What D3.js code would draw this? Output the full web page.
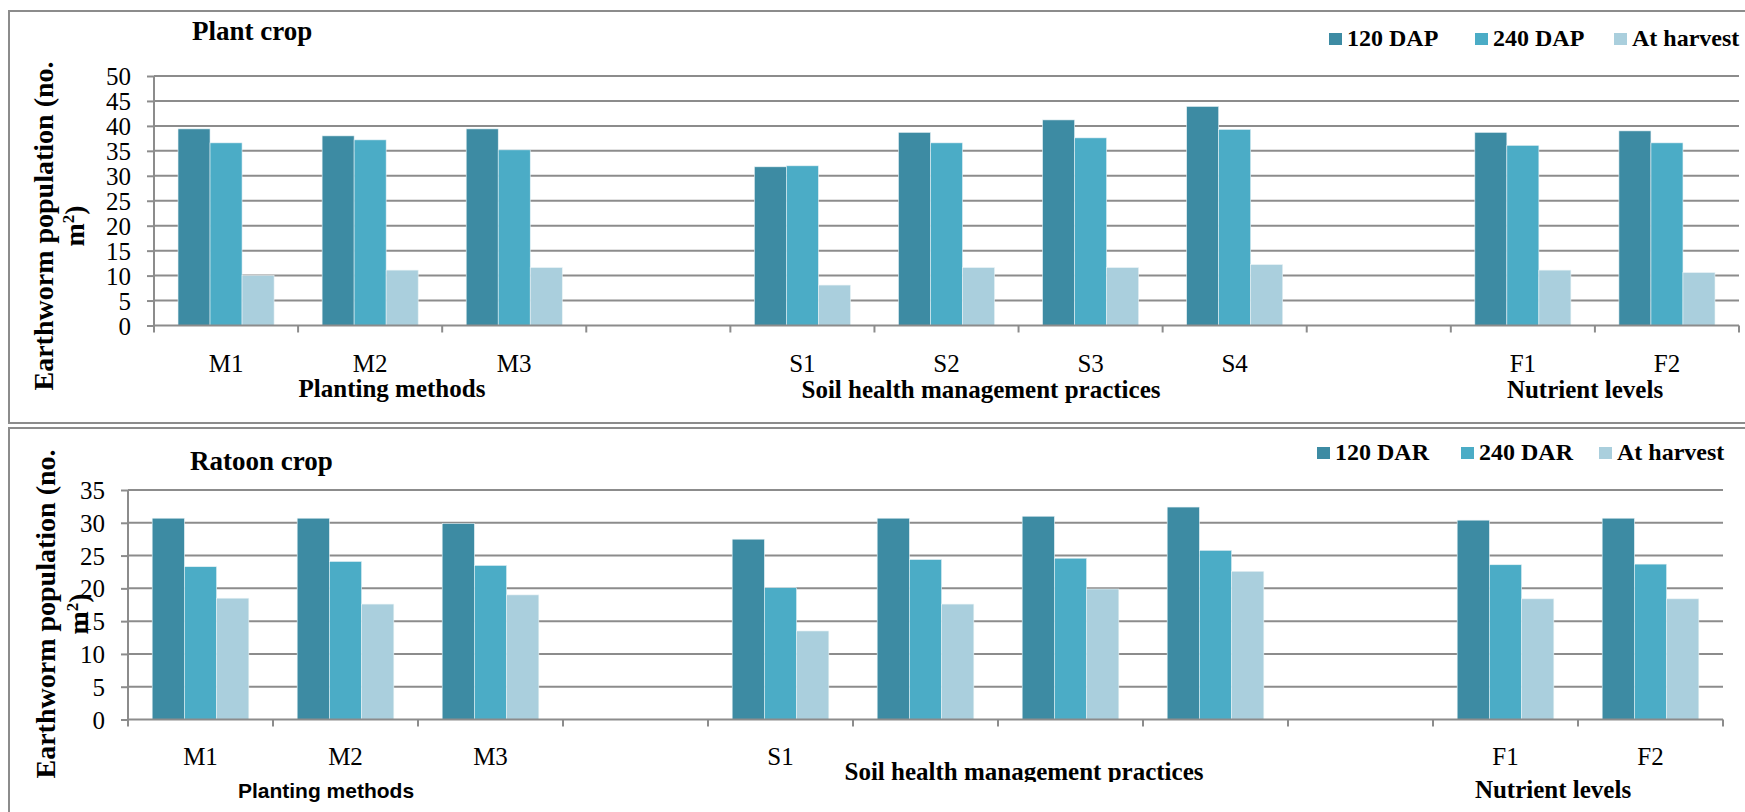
<!DOCTYPE html>
<html><head><meta charset="utf-8">
<script src="https://cdn.jsdelivr.net/npm/d3@7"></script>
<style>
html,body{margin:0;padding:0;background:#fff;}
svg text{font-family:"Liberation Serif","Times New Roman",serif;fill:#000;}
</style></head>
<body><svg id="c" width="1745" height="812"></svg>
<script>
// ---------- data ----------
const categories = ["M1","M2","M3","","S1","S2","S3","S4","","F1","F2"];
const groupTitles = ["Planting methods","Soil health management practices","Nutrient levels"];

const plantSeries = ["120 DAP","240 DAP","At harvest"];
const plant120 = [39.4,38.0,39.4,null,31.8,38.7,41.2,43.9,null,38.7,39.0];
const plant240 = [36.6,37.2,35.2,null,32.0,36.6,37.6,39.3,null,36.1,36.6];
const plantHarv = [10.0,11.1,11.6,null,8.1,11.6,11.6,12.2,null,11.1,10.6];
const plantTicks = [0,5,10,15,20,25,30,35,40,45,50];

const ratoonSeries = ["120 DAR","240 DAR","At harvest"];
const ratoon120 = [30.7,30.7,29.9,null,27.5,30.7,31.0,32.4,null,30.4,30.7];
const ratoon240 = [23.3,24.1,23.5,null,20.1,24.4,24.6,25.8,null,23.6,23.7];
const ratoonHarv = [18.5,17.6,19.0,null,13.5,17.6,19.9,22.6,null,18.4,18.4];
const ratoonTicks = [0,5,10,15,20,25,30,35];
const ratoonHiddenLabels = ["S2","S3","S4"];

const colors = ["#3d8ba3","#4bacc6","#aacfdd"];
const gridColor = "#8c8c8c";

const svg = d3.select("#c");

// panel borders
svg.append("rect").attr("x",9).attr("y",11).attr("width",1760).attr("height",412)
  .attr("fill","none").attr("stroke",gridColor).attr("stroke-width",2);
svg.append("rect").attr("x",9).attr("y",428).attr("width",1760).attr("height",420)
  .attr("fill","none").attr("stroke",gridColor).attr("stroke-width",2);

function panel(cfg){
  const g = svg.append("g");
  const x = d3.scaleBand().domain(d3.range(categories.length)).range([cfg.x0,cfg.x1]).paddingInner(0).paddingOuter(0);
  const xs = d3.scaleBand().domain(cfg.series).range([0,x.bandwidth()]).paddingInner(0).paddingOuter(0.75);
  const y = d3.scaleLinear().domain([0,cfg.ymax]).range([cfg.yb,cfg.yt]);

  // gridlines
  g.append("g").selectAll("line").data(cfg.ticks.filter(t=>t>0)).join("line")
    .attr("x1",cfg.x0).attr("x2",cfg.x1).attr("y1",d=>y(d)).attr("y2",d=>y(d))
    .attr("stroke",gridColor).attr("stroke-width",2);

  // bars
  const data = [];
  categories.forEach((c,i)=>{
    cfg.values.forEach((arr,s)=>{ if(arr[i]!=null) data.push({i,s,v:arr[i]}); });
  });
  g.append("g").selectAll("rect").data(data).join("rect")
    .attr("x",d=>x(d.i)+xs(cfg.series[d.s]))
    .attr("width",xs.bandwidth())
    .attr("y",d=>y(d.v)).attr("height",d=>y(0)-y(d.v))
    .attr("fill",d=>colors[d.s]).attr("stroke","#e8f2f5").attr("stroke-width",0.6);

  // y axis
  const ya = d3.axisLeft(y).tickValues(cfg.ticks).tickSize(7).tickPadding(16).tickFormat(d3.format("d"));
  const yg = g.append("g").attr("transform",`translate(${cfg.x0},0)`).call(ya);
  yg.select(".domain").attr("stroke",gridColor).attr("stroke-width",2).attr("d",`M0,${cfg.yt}V${cfg.yb}`);
  yg.selectAll(".tick line").attr("stroke",gridColor).attr("stroke-width",2);
  yg.selectAll(".tick text").attr("font-size",25).attr("dy","0.34em");

  // x axis baseline + ticks at band boundaries
  g.append("line").attr("x1",cfg.x0).attr("x2",cfg.x1).attr("y1",y(0)).attr("y2",y(0))
    .attr("stroke",gridColor).attr("stroke-width",2);
  const bounds = d3.range(categories.length+1).map(k=>cfg.x0+k*x.step());
  g.append("g").selectAll("line").data(bounds).join("line")
    .attr("x1",d=>d).attr("x2",d=>d).attr("y1",y(0)).attr("y2",y(0)+7)
    .attr("stroke",gridColor).attr("stroke-width",2);

  // category labels
  g.append("g").selectAll("text").data(categories.map((c,i)=>({c,i})).filter(d=>d.c!=="" && !cfg.hidden.includes(d.c))).join("text")
    .attr("x",d=>x(d.i)+x.bandwidth()/2).attr("y",cfg.catY)
    .attr("text-anchor","middle").attr("font-size",25).text(d=>d.c);

  // group titles
  cfg.groups.forEach((gt,k)=>{
    const t = g.append("text").attr("x",gt.x).attr("y",gt.y).attr("text-anchor","middle")
      .attr("font-size",gt.size||25).attr("font-weight","bold").text(groupTitles[k]);
    if(gt.sans) t.style("font-family","'Liberation Sans', Arial, sans-serif");
    if(gt.clip) t.attr("clip-path",gt.clip);
  });

  // chart title
  g.append("text").attr("x",cfg.titleX).attr("y",cfg.titleY).attr("font-size",27)
    .attr("font-weight","bold").text(cfg.title);

  // y label
  const yl = g.append("text").attr("transform",`translate(${cfg.ylX},${cfg.ylY}) rotate(-90)`)
    .attr("text-anchor","middle").attr("font-size",28).attr("font-weight","bold");
  yl.append("tspan").attr("x",0).attr("dy","0.35em").text("Earthworm population (no.");
  const t2 = yl.append("tspan").attr("x",0).attr("dy",cfg.ylGap);
  t2.append("tspan").text("m");
  t2.append("tspan").attr("font-size",17).attr("dy",-10).text("2");
  t2.append("tspan").attr("dy",10).text(")");

  // legend
  const lg = g.append("g");
  cfg.series.forEach((s,k)=>{
    lg.append("rect").attr("x",cfg.legX[k]).attr("y",cfg.legY-13).attr("width",13).attr("height",12).attr("fill",colors[k]);
    lg.append("text").attr("x",cfg.legX[k]+18).attr("y",cfg.legY).attr("font-size",24).attr("font-weight","bold").text(s);
  });
}

// clip for lower group title
svg.append("defs").append("clipPath").attr("id","clipLow")
  .append("rect").attr("x",0).attr("y",0).attr("width",1745).attr("height",782);

panel({
  x0:154, x1:1739, yb:325.5, yt:76, ymax:50, ticks:plantTicks,
  series:plantSeries, values:[plant120,plant240,plantHarv], hidden:[],
  catY:372,
  groups:[{x:392,y:397},{x:981,y:398},{x:1585,y:398}],
  title:"Plant crop", titleX:192, titleY:40,
  ylX:43, ylY:226, ylGap:31,
  legX:[1329,1475,1614], legY:46
});

panel({
  x0:128, x1:1723, yb:719.5, yt:490, ymax:35, ticks:ratoonTicks,
  series:ratoonSeries, values:[ratoon120,ratoon240,ratoonHarv], hidden:ratoonHiddenLabels,
  catY:765,
  groups:[{x:326,y:798,sans:true,size:21},{x:1024,y:780,clip:"url(#clipLow)"},{x:1553,y:798}],
  title:"Ratoon crop", titleX:190, titleY:470,
  ylX:45, ylY:614, ylGap:33,
  legX:[1317,1461,1599], legY:460
});
</script></body></html>
